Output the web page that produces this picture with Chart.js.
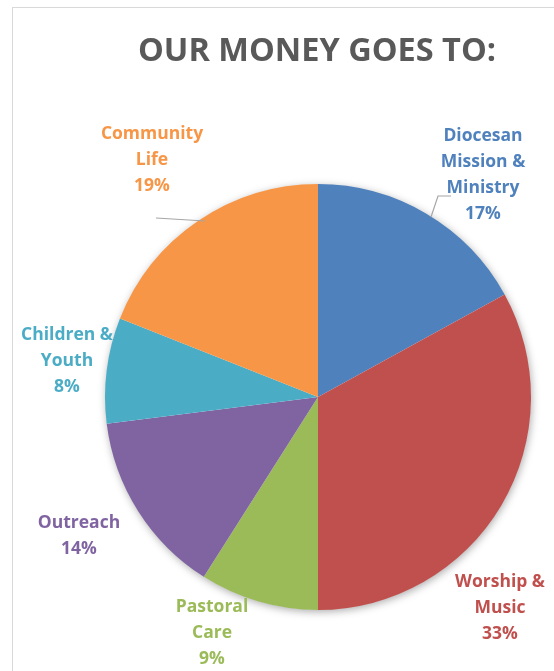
<!DOCTYPE html>
<html>
<head>
<meta charset="utf-8">
<script src="https://cdn.jsdelivr.net/npm/chart.js@4"></script>
<style>
  html, body { margin: 0; padding: 0; background: #fff; }
  #wrap { width: 554px; height: 671px; }
</style>
</head>
<body>
<div id="wrap"><canvas id="moneyChart" width="554" height="671"></canvas></div>
<script>
const titulo = "OUR MONEY GOES TO:";
const categorias = [
  ["Diocesan", "Mission &", "Ministry"],
  ["Worship &", "Music"],
  ["Pastoral", "Care"],
  ["Outreach"],
  ["Children &", "Youth"],
  ["Community", "Life"]
];
const percentuais = [17, 33, 9, 14, 8, 19];
const cores = ["#4F81BD", "#C0504D", "#9BBB59", "#8064A2", "#4BACC6", "#F79646"];

// where each label block sits (x centre, y of first line)
const posLabels = [
  [483, 136], [500, 582], [212, 607], [79, 523], [67, 335], [152, 134]
];
const fonte = "'Open Sans', Lato, sans-serif";

const decoracao = {
  id: "decoracao",
  beforeDatasetsDraw(chart) {
    const c = chart.ctx;
    const arc = chart.getDatasetMeta(0).data[0];
    c.save();
    // moldura
    c.strokeStyle = "#d9d9d9";
    c.lineWidth = 1;
    c.strokeRect(12.5, 7.5, 700, 800);
    // sombra da pizza
    c.shadowColor = "rgba(0,0,0,0.35)";
    c.shadowBlur = 9;
    c.shadowOffsetX = 1;
    c.shadowOffsetY = 2;
    c.fillStyle = "#fff";
    c.beginPath();
    c.arc(arc.x, arc.y, arc.outerRadius - 0.5, 0, Math.PI * 2);
    c.fill();
    c.restore();
  },
  afterDatasetsDraw(chart) {
    const c = chart.ctx;
    c.save();
    c.fillStyle = "#595959";
    c.font = "bold 32.5px " + fonte;
    c.textAlign = "center";
    c.textBaseline = "middle";
    c.fillText(titulo, 317, 52);

    // linhas de chamada
    c.strokeStyle = "#a6a6a6";
    c.lineWidth = 1.2;
    c.beginPath();
    c.moveTo(431, 217); c.lineTo(438, 196); c.lineTo(451, 196);
    c.moveTo(156, 218); c.lineTo(205, 221);
    c.stroke();

    c.font = "bold 17.5px " + fonte;
    categorias.forEach((linhas, i) => {
      const [x, y] = posLabels[i];
      c.fillStyle = cores[i];
      const todas = linhas.concat([percentuais[i] + "%"]);
      todas.forEach((t, k) => c.fillText(t, x, y + k * 26));
    });
    c.restore();
  }
};

const ctx = document.getElementById("moneyChart").getContext("2d");
new Chart(ctx, {
  type: "pie",
  data: {
    labels: categorias,
    datasets: [{
      data: percentuais,
      backgroundColor: cores,
      borderWidth: 0
    }]
  },
  options: {
    responsive: false,
    animation: false,
    layout: { padding: { left: 105, right: 23, top: 184, bottom: 61 } },
    plugins: {
      legend: { display: false },
      tooltip: { enabled: false },
      title: { display: false }
    }
  },
  plugins: [decoracao]
});
</script>
</body>
</html>
